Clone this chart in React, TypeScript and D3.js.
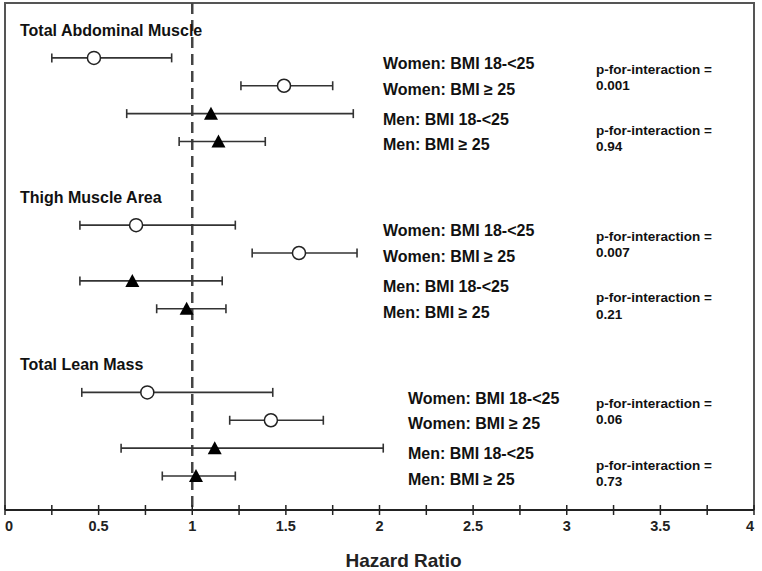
import React, { useRef, useEffect } from "react";
import * as d3 from "d3";

// measures and groups
const sections = ["Total Abdominal Muscle", "Thigh Muscle Area", "Total Lean Mass"];
const subgroups = ["Women: BMI 18-<25", "Women: BMI \u2265 25", "Men: BMI 18-<25", "Men: BMI \u2265 25"];
const isWomen = [true, true, false, false];

// hazard ratios with 95% CI, one row per section
const hr = [
  [0.475, 1.49, 1.1, 1.14],
  [0.7, 1.57, 0.68, 0.97],
  [0.76, 1.42, 1.12, 1.02],
];
const lower = [
  [0.25, 1.26, 0.65, 0.93],
  [0.4, 1.32, 0.4, 0.81],
  [0.41, 1.2, 0.62, 0.84],
];
const upper = [
  [0.89, 1.75, 1.86, 1.39],
  [1.23, 1.88, 1.16, 1.18],
  [1.43, 1.7, 2.02, 1.23],
];
const pValues = [
  ["0.001", "0.94"],
  ["0.007", "0.21"],
  ["0.06", "0.73"],
];
const xTicks = [0, 0.5, 1, 1.5, 2, 2.5, 3, 3.5, 4];
const xMinorTicks = d3.range(0.25, 4, 0.5);

const W = 762;
const H = 571;

export default function App() {
  const ref = useRef(null);

  useEffect(() => {
    const svg = d3.select(ref.current);
    svg.selectAll("*").remove();

    const left = 5;
    const right = 754;
    const top = 3;
    const axisY = 510;

    const x = d3.scaleLinear().domain([0, 4]).range([left, right]);
    // row index: section s title at s*6, its rows at s*6+1..4
    const y = d3.scaleLinear().domain([0, 16]).range([30, 476]);

    const font = "'Liberation Sans', Arial, sans-serif";

    // frame
    svg
      .append("path")
      .attr("d", `M${left},${axisY} V${top} H${right} V${axisY}`)
      .attr("fill", "none")
      .attr("stroke", "#555")
      .attr("stroke-width", 2);

    // reference line at HR = 1
    svg
      .append("line")
      .attr("x1", x(1))
      .attr("x2", x(1))
      .attr("y1", top)
      .attr("y2", axisY)
      .attr("stroke", "#444")
      .attr("stroke-width", 2.5)
      .attr("stroke-dasharray", "11,6");

    // x axis
    const ax = svg.append("g").attr("transform", `translate(0,${axisY})`);
    ax.append("line")
      .attr("x1", left)
      .attr("x2", right)
      .attr("stroke", "#222")
      .attr("stroke-width", 2);
    ax.selectAll("line.tick")
      .data([...xTicks, ...xMinorTicks])
      .join("line")
      .attr("class", "tick")
      .attr("x1", (d) => x(d))
      .attr("x2", (d) => x(d))
      .attr("y1", -5)
      .attr("y2", 5)
      .attr("stroke", "#222")
      .attr("stroke-width", 1.5);
    ax.selectAll("text")
      .data(xTicks)
      .join("text")
      .attr("x", (d) => x(d))
      .attr("y", 21)
      .attr("text-anchor", (d) => (d === 0 ? "start" : d === 4 ? "end" : "middle"))
      .attr("font-family", font)
      .attr("font-weight", "bold")
      .attr("font-size", 14.5)
      .attr("fill", "#222")
      .text((d) => d3.format("")(d));

    svg
      .append("text")
      .attr("x", x(2) + 24)
      .attr("y", 567)
      .attr("text-anchor", "middle")
      .attr("font-family", font)
      .attr("font-weight", "bold")
      .attr("font-size", 19)
      .attr("fill", "#222")
      .text("Hazard Ratio");

    const labelX = [383, 383, 408];
    const labelOffset = [1.2, 2.13, 3.2, 4.12];
    const pX = 596;
    const pOffset = [1.4, 3.6];

    sections.forEach((name, s) => {
      const base = s * 6;
      const g = svg.append("g");

      g.append("text")
        .attr("x", 20)
        .attr("y", y(base))
        .attr("dy", "0.35em")
        .attr("font-family", font)
        .attr("font-weight", "bold")
        .attr("font-size", 16)
        .attr("fill", "#111")
        .text(name);

      const rows = subgroups.map((label, i) => ({
        label,
        women: isWomen[i],
        hr: hr[s][i],
        lo: lower[s][i],
        hi: upper[s][i],
        row: base + 1 + i,
      }));

      const rowG = g
        .selectAll("g.row")
        .data(rows)
        .join("g")
        .attr("class", "row")
        .attr("transform", (d) => `translate(0,${y(d.row)})`);

      rowG
        .append("line")
        .attr("x1", (d) => x(d.lo))
        .attr("x2", (d) => x(d.hi))
        .attr("stroke", "#333")
        .attr("stroke-width", 1.6);
      rowG
        .selectAll("line.cap")
        .data((d) => [d.lo, d.hi])
        .join("line")
        .attr("class", "cap")
        .attr("x1", (v) => x(v))
        .attr("x2", (v) => x(v))
        .attr("y1", -4.5)
        .attr("y2", 4.5)
        .attr("stroke", "#333")
        .attr("stroke-width", 1.6);

      rowG
        .filter((d) => d.women)
        .append("circle")
        .attr("cx", (d) => x(d.hr))
        .attr("r", 6.5)
        .attr("fill", "#fff")
        .attr("stroke", "#222")
        .attr("stroke-width", 1.5);

      rowG
        .filter((d) => !d.women)
        .append("path")
        .attr("transform", (d) => `translate(${x(d.hr)},0)`)
        .attr("d", "M0,-7 L7,6 L-7,6 Z")
        .attr("fill", "#000");

      g.selectAll("text.lab")
        .data(rows)
        .join("text")
        .attr("class", "lab")
        .attr("x", labelX[s])
        .attr("y", (d, i) => y(base + labelOffset[i]))
        .attr("dy", "0.35em")
        .attr("font-family", font)
        .attr("font-weight", "bold")
        .attr("font-size", 16)
        .attr("fill", "#111")
        .text((d) => d.label);

      pValues[s].forEach((p, k) => {
        const t = g
          .append("text")
          .attr("x", pX)
          .attr("y", y(base + pOffset[k]))
          .attr("font-family", font)
          .attr("font-weight", "bold")
          .attr("font-size", 13.5)
          .attr("fill", "#111");
        t.append("tspan").attr("x", pX).attr("dy", "0.35em").text("p-for-interaction =");
        t.append("tspan").attr("x", pX).attr("dy", "1.2em").text(p);
      });
    });
  }, []);

  return (
    <svg
      ref={ref}
      width={W}
      height={H}
      style={{ position: "absolute", left: 0, top: 0, background: "#fff" }}
    />
  );
}
